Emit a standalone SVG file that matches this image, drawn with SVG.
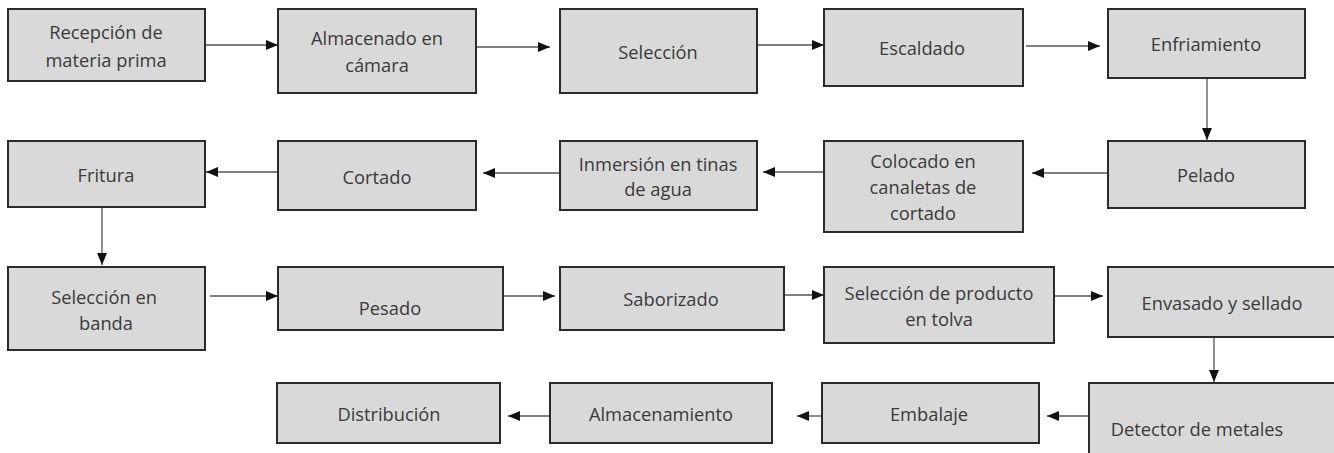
<svg xmlns="http://www.w3.org/2000/svg" width="1334" height="453" viewBox="0 0 1334 453">
<style>
.box{fill:#d9d9d9;stroke:#2b2b2b;stroke-width:2}
.t{font-family:"Open Sans","Noto Sans",sans-serif;font-size:18.3px;fill:#3a3a3a;text-anchor:middle}
.c{stroke:#555;stroke-width:1.3;fill:none;marker-end:url(#ah)}
</style>
<defs>
<marker id="ah" markerUnits="userSpaceOnUse" markerWidth="12" markerHeight="10" refX="12" refY="5" orient="auto">
<path d="M0,0 L12,5 L0,10 z" fill="#111"/>
</marker>
</defs>
<rect width="1334" height="453" fill="#fff"/>
<g id="connectors">
<line class="c" x1="205" y1="45" x2="278" y2="45"/>
<line class="c" x1="476" y1="47" x2="550" y2="47"/>
<line class="c" x1="757" y1="45" x2="824" y2="45"/>
<line class="c" x1="1026" y1="46" x2="1100" y2="46"/>
<line class="c" x1="1207" y1="78" x2="1207" y2="140"/>
<line class="c" x1="1108" y1="173" x2="1032" y2="173"/>
<line class="c" x1="824" y1="172" x2="763" y2="172"/>
<line class="c" x1="560" y1="173" x2="483" y2="173"/>
<line class="c" x1="278" y1="172" x2="206" y2="172"/>
<line class="c" x1="102" y1="199" x2="102" y2="265"/>
<line class="c" x1="210" y1="296" x2="278" y2="296"/>
<line class="c" x1="503" y1="296" x2="555" y2="296"/>
<line class="c" x1="784" y1="295" x2="824" y2="295"/>
<line class="c" x1="1054" y1="296" x2="1103" y2="296"/>
<line class="c" x1="1214" y1="320" x2="1214" y2="382"/>
<line class="c" x1="1089" y1="416" x2="1047" y2="416"/>
<line class="c" x1="822" y1="416" x2="797" y2="416"/>
<line class="c" x1="550" y1="416" x2="508" y2="416"/>
</g>
<g id="n1"><rect class="box" x="8" y="9" width="197" height="72"/><text class="t" x="106" y="39">Recepción de</text><text class="t" x="106" y="67">materia prima</text></g>
<g id="n2"><rect class="box" x="278" y="9" width="198" height="84"/><text class="t" x="377" y="45">Almacenado en</text><text class="t" x="377" y="72">cámara</text></g>
<g id="n3"><rect class="box" x="560" y="9" width="197" height="84"/><text class="t" x="658" y="59">Selección</text></g>
<g id="n4"><rect class="box" x="824" y="9" width="199" height="77"/><text class="t" x="922" y="55">Escaldado</text></g>
<g id="n5"><rect class="box" x="1108" y="9" width="197" height="69"/><text class="t" x="1206" y="51">Enfriamiento</text></g>
<g id="n6"><rect class="box" x="1108" y="141" width="197" height="67"/><text class="t" x="1206" y="182">Pelado</text></g>
<g id="n7"><rect class="box" x="824" y="141" width="199" height="91"/><text class="t" x="923" y="168">Colocado en</text><text class="t" x="923" y="194">canaletas de</text><text class="t" x="923" y="220">cortado</text></g>
<g id="n8"><rect class="box" x="560" y="141" width="197" height="69"/><text class="t" x="658" y="171">Inmersión en tinas</text><text class="t" x="658" y="196">de agua</text></g>
<g id="n9"><rect class="box" x="278" y="141" width="198" height="69"/><text class="t" x="377" y="184">Cortado</text></g>
<g id="n10"><rect class="box" x="8" y="141" width="197" height="66"/><text class="t" x="106" y="182">Fritura</text></g>
<g id="n11"><rect class="box" x="8" y="267" width="197" height="83"/><text class="t" x="104" y="304">Selección en</text><text class="t" x="106" y="330">banda</text></g>
<g id="n12"><rect class="box" x="278" y="267" width="225" height="63"/><text class="t" x="390" y="315">Pesado</text></g>
<g id="n13"><rect class="box" x="560" y="267" width="224" height="63"/><text class="t" x="671" y="306">Saborizado</text></g>
<g id="n14"><rect class="box" x="824" y="267" width="230" height="76"/><text class="t" x="939" y="300">Selección de producto</text><text class="t" x="939" y="326">en tolva</text></g>
<g id="n15"><rect class="box" x="1108" y="267" width="240" height="70"/><text class="t" x="1222" y="310">Envasado y sellado</text></g>
<g id="n16"><rect class="box" x="1089" y="383" width="260" height="80"/><text class="t" x="1197" y="436">Detector de metales</text></g>
<g id="n17"><rect class="box" x="822" y="383" width="217" height="60"/><text class="t" x="929" y="421">Embalaje</text></g>
<g id="n18"><rect class="box" x="550" y="383" width="222" height="60"/><text class="t" x="661" y="421">Almacenamiento</text></g>
<g id="n19"><rect class="box" x="277" y="383" width="223" height="60"/><text class="t" x="389" y="421">Distribución</text></g>
</svg>
